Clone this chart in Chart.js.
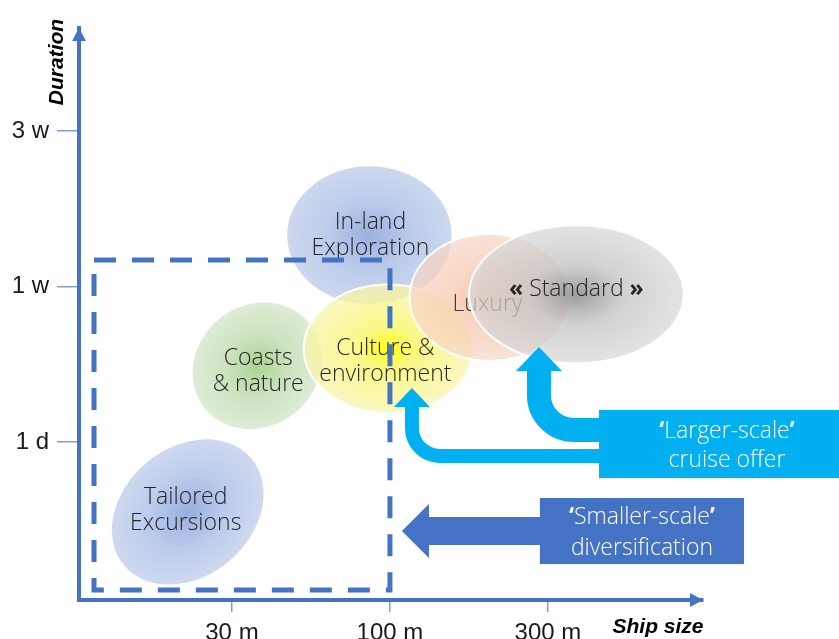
<!DOCTYPE html>
<html><head><meta charset="utf-8">
<script src="https://cdn.jsdelivr.net/npm/chart.js@4.4.1/dist/chart.umd.min.js"></script>
<style>html,body{margin:0;padding:0;background:#fff;}canvas{display:block;}</style>
</head><body>
<canvas id="c" width="839" height="639"></canvas>
<script>
// ---------- DATA ----------
// x: ship size in tick steps (1 = 30 m, 2 = 100 m, 3 = 300 m)
// y: duration in tick steps (1 = 1 d, 2 = 1 w, 3 = 3 w)
const segments    = ['Tailored\nExcursions', 'Coasts\n& nature', 'In-land\nExploration', 'Culture &\nenvironment', 'Luxury', '« Standard »'];
const shipSize    = [0.72, 1.16, 1.87, 1.99, 2.63, 3.18];
const duration    = [0.55, 1.49, 2.33, 1.60, 1.93, 1.95];
const spreadMajor = [0.53, 0.43, 0.525, 0.54, 0.51, 0.685];
const spreadMinor = [0.41, 0.385, 0.44, 0.41, 0.405, 0.44];
const xTickValues = [1, 2, 3];
const xTickLabels = ['30 m', '100 m', '300 m'];
const yTickValues = [1, 2, 3];
const yTickLabels = ['1 d', '1 w', '3 w'];
const smallScaleZone = {xFrom: 0.127, xTo: 2.0, yFrom: 0.048, yTo: 2.17};

// ---------- STYLE ----------
const BLUE = '#4472C4', CYAN = '#00B0F0';
const LABEL_FONT = '"Open Sans", "Noto Sans", sans-serif';
const rotations = [-40, -40, 0, 0, 0, 0];
const gradients = [
  [[0,'rgb(152,174,223)'],[0.5,'rgb(186,203,235)'],[1,'rgb(206,217,239)']],
  [[0,'rgb(172,210,148)'],[0.5,'rgb(205,227,191)'],[1,'rgb(222,236,214)']],
  [[0,'rgb(155,177,224)'],[0.5,'rgb(186,203,235)'],[1,'rgb(205,216,238)']],
  [[0,'rgba(255,255,0,0.97)'],[0.35,'rgba(250,247,110,0.82)'],[1,'rgba(248,244,175,0.75)']],
  [[0,'rgba(244,178,140,0.78)'],[0.5,'rgba(246,200,175,0.72)'],[1,'rgba(246,215,200,0.72)']],
  [[0,'rgba(140,140,140,0.85)'],[0.45,'rgba(195,195,195,0.75)'],[1,'rgba(215,215,215,0.7)']]
];
const strokes = [null, null, null, '#ffffff', '#ffffff', '#ffffff'];
const labelOffsets = [[-2,-2],[1,6],[1,0],[-3,13],[-2,7],[0,-5]];
const labelColors = ['#262626','#262626','#262626','#262626','#3a3a3a','#262626'];

const X_MIN = 0.032, X_MAX = 0.032 + 624/158;
const Y_MIN = -0.016, Y_MAX = -0.016 + 572/155.5;

function richLine(ctx, str, cx, cy, size, color, weight) {
  const parts = [];
  for (const ch of str) {
    const b = '«»‘’'.includes(ch);
    if (parts.length && parts[parts.length-1].b === b) parts[parts.length-1].t += ch;
    else parts.push({t: ch, b});
  }
  const base = `${weight} ${size}px ${LABEL_FONT}`;
  const bold = `700 ${size}px ${LABEL_FONT}`;
  let w = 0;
  parts.forEach(p => { ctx.font = p.b ? bold : base; p.w = ctx.measureText(p.t).width; w += p.w; });
  let x = cx - w/2;
  ctx.textAlign = 'left'; ctx.textBaseline = 'middle'; ctx.fillStyle = color;
  parts.forEach(p => { ctx.font = p.b ? bold : base; ctx.fillText(p.t, x, cy); x += p.w; });
}
function richText(ctx, text, cx, cy, size, lh, color, weight) {
  const lines = text.split('\n');
  const y0 = cy - (lines.length - 1) * lh / 2;
  lines.forEach((l, i) => richLine(ctx, l, cx, y0 + i*lh, size, color, weight));
}

const ellipsePlugin = {
  id: 'ellipses',
  beforeDatasetsDraw(chart) {
    const ctx = chart.ctx, xs = chart.scales.x, ys = chart.scales.y;
    const meta = chart.getDatasetMeta(0);
    const unit = ((xs.getPixelForValue(1) - xs.getPixelForValue(0)) + (ys.getPixelForValue(0) - ys.getPixelForValue(1))) / 2;
    meta.data.forEach((el, i) => {
      const cx = el.x, cy = el.y;
      const a = spreadMajor[i]*unit, b = spreadMinor[i]*unit;
      ctx.save();
      ctx.translate(cx, cy); ctx.rotate(rotations[i]*Math.PI/180);
      ctx.save(); ctx.scale(a, b);
      const g = ctx.createRadialGradient(0,0,0,0,0,1);
      gradients[i].forEach(([o,c]) => g.addColorStop(o,c));
      ctx.beginPath(); ctx.arc(0,0,1,0,Math.PI*2); ctx.fillStyle = g; ctx.fill();
      ctx.restore();
      if (strokes[i]) { ctx.beginPath(); ctx.ellipse(0,0,a,b,0,0,Math.PI*2); ctx.strokeStyle = strokes[i]; ctx.lineWidth = 2; ctx.stroke(); }
      ctx.restore();
      richText(ctx, segments[i], cx + labelOffsets[i][0], cy + labelOffsets[i][1], 23, 26, labelColors[i], 300);
    });
  }
};

const annotPlugin = {
  id: 'annot',
  afterDatasetsDraw(chart) {
    const ctx = chart.ctx, xs = chart.scales.x, ys = chart.scales.y, ca = chart.chartArea;
    const px = v => xs.getPixelForValue(v), py = v => ys.getPixelForValue(v);
    // dashed small-scale zone
    ctx.save();
    ctx.strokeStyle = BLUE; ctx.lineWidth = 5; ctx.setLineDash([22,16]); ctx.lineJoin = 'miter';
    const l = px(smallScaleZone.xFrom), r = px(smallScaleZone.xTo), t = py(smallScaleZone.yTo), b = py(smallScaleZone.yFrom);
    ctx.beginPath(); ctx.moveTo(l, t); ctx.lineTo(r, t); ctx.lineTo(r, b); ctx.lineTo(l, b); ctx.closePath(); ctx.stroke();
    ctx.restore();

    // 'Smaller-scale' arrow + box
    ctx.save(); ctx.fillStyle = BLUE;
    const sbL = px(2.949), sbR = px(4.241), sbT = py(0.640), sbB = py(0.215);
    const sTip = px(2.076), sMid = (sbT + sbB)/2, sHead = px(2.247);
    ctx.beginPath();
    ctx.moveTo(sTip, sMid); ctx.lineTo(sHead, sMid-27); ctx.lineTo(sHead, sMid-14); ctx.lineTo(sbL+1, sMid-14);
    ctx.lineTo(sbL+1, sMid+14); ctx.lineTo(sHead, sMid+14); ctx.lineTo(sHead, sMid+27); ctx.closePath(); ctx.fill();
    ctx.fillRect(sbL, sbT, sbR-sbL, sbB-sbT);
    richText(ctx, '‘Smaller-scale’\ndiversification', (sbL+sbR)/2, sMid + 2, 23, 31, '#ffffff', 300);
    ctx.restore();

    // 'Larger-scale' arrows + box
    ctx.save(); ctx.fillStyle = CYAN; ctx.strokeStyle = CYAN;
    const lbL = px(3.323), lbR = px(4.842), lbT = py(1.206), lbB = py(0.768);
    // right bent arrow (to Standard)
    const rX = px(2.943), rTip = py(1.611), rBase = py(1.457);
    ctx.lineWidth = 24; ctx.lineCap = 'butt';
    ctx.beginPath(); ctx.moveTo(rX, rBase - 1); ctx.lineTo(rX, rBase + 24); ctx.arc(rX + 35, rBase + 24, 35, Math.PI, Math.PI/2, true); ctx.lineTo(lbL + 5, rBase + 59); ctx.stroke();
    ctx.beginPath(); ctx.moveTo(rX, rTip); ctx.lineTo(rX - 23, rBase); ctx.lineTo(rX + 23, rBase); ctx.closePath(); ctx.fill();
    // left bent arrow (to Culture)
    const qX = px(2.139), qTip = py(1.347), qBase = py(1.225);
    ctx.lineWidth = 14;
    ctx.beginPath(); ctx.moveTo(qX, qBase - 1); ctx.lineTo(qX, qBase + 21); ctx.arc(qX + 28, qBase + 21, 28, Math.PI, Math.PI/2, true); ctx.lineTo(lbL + 5, qBase + 49); ctx.stroke();
    ctx.beginPath(); ctx.moveTo(qX, qTip); ctx.lineTo(qX - 18, qBase); ctx.lineTo(qX + 18, qBase); ctx.closePath(); ctx.fill();
    ctx.fillRect(lbL, lbT, lbR-lbL, lbB-lbT);
    richText(ctx, '‘Larger-scale’\ncruise offer', lbL + 128, (lbT+lbB)/2 + 2, 23, 29, '#ffffff', 300);
    ctx.restore();

    // axis arrowheads
    ctx.save(); ctx.fillStyle = BLUE;
    ctx.beginPath(); ctx.moveTo(ca.left, ca.top); ctx.lineTo(ca.left - 7, ca.top + 13); ctx.lineTo(ca.left + 7, ca.top + 13); ctx.closePath(); ctx.fill();
    ctx.beginPath(); ctx.moveTo(ca.right, ca.bottom); ctx.lineTo(ca.right - 13, ca.bottom - 7); ctx.lineTo(ca.right - 13, ca.bottom + 7); ctx.closePath(); ctx.fill();
    // axis titles
    ctx.fillStyle = '#000'; ctx.font = 'italic 700 21px "Liberation Sans", Arial, sans-serif';
    ctx.textAlign = 'center'; ctx.textBaseline = 'middle';
    ctx.fillText('Ship size', ca.right - 45, ca.bottom + 27);
    ctx.translate(ca.left - 22, ca.top + 34); ctx.rotate(-Math.PI/2); ctx.fillText('Duration', 0, 0);
    ctx.restore();
  }
};

const bgPlugin = { id: 'bg', beforeDraw(chart) { const c = chart.ctx; c.save(); c.fillStyle = '#fff'; c.fillRect(0,0,chart.width,chart.height); c.restore(); } };

new Chart(document.getElementById('c'), {
  type: 'bubble',
  data: { datasets: [{ label: 'Segments', data: segments.map((s, i) => ({x: shipSize[i], y: duration[i], r: 0})), backgroundColor: 'rgba(0,0,0,0)', borderWidth: 0, hoverRadius: 0 }] },
  options: {
    responsive: false, animation: false, devicePixelRatio: 1,
    layout: { padding: { top: 28, right: 136, left: 0, bottom: 0 } },
    plugins: { legend: { display: false }, tooltip: { enabled: false }, title: { display: false } },
    scales: {
      x: {
        type: 'linear', min: X_MIN, max: X_MAX,
        afterBuildTicks: s => { s.ticks = xTickValues.map(v => ({value: v})); },
        afterFit: s => { s.height = 39; },
        ticks: { autoSkip: false, maxRotation: 0, padding: 7, color: '#1a1a1a', font: { family: '"Liberation Sans", Arial, sans-serif', size: 24 }, callback: (v, i) => xTickLabels[i] },
        grid: { drawOnChartArea: false, drawTicks: true, tickLength: 12, color: '#7f9fd8', lineWidth: 1.5 },
        border: { display: true, color: BLUE, width: 4 }
      },
      y: {
        type: 'linear', min: Y_MIN, max: Y_MAX,
        afterBuildTicks: s => { s.ticks = yTickValues.map(v => ({value: v})); },
        afterFit: s => { s.width = 79; },
        ticks: { autoSkip: false, padding: 8, color: '#1a1a1a', font: { family: '"Liberation Sans", Arial, sans-serif', size: 24 }, callback: (v, i) => yTickLabels[i] },
        grid: { drawOnChartArea: false, drawTicks: true, tickLength: 22, color: '#7f9fd8', lineWidth: 1.5 },
        border: { display: true, color: BLUE, width: 4 }
      }
    }
  },
  plugins: [bgPlugin, ellipsePlugin, annotPlugin]
});
</script>
</body></html>
